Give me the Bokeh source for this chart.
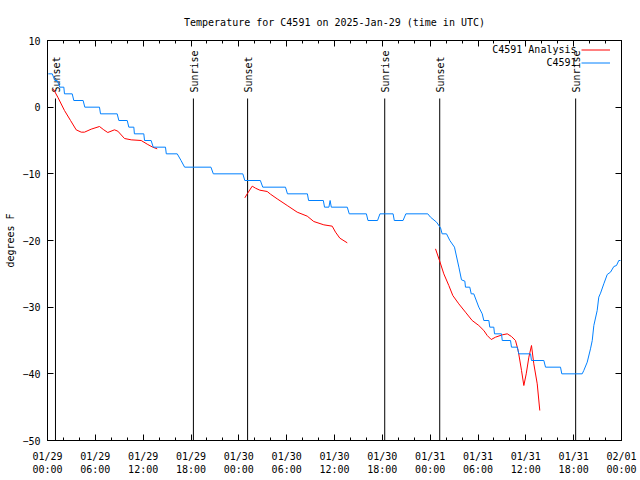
import math
from bokeh.plotting import figure
from bokeh.models import (FixedTicker, LinearAxis, Range1d, Legend, LegendItem, Label)
from bokeh.core.properties import value
from bokeh.embed import file_html
from bokeh.resources import INLINE

TITLE = "Temperature for C4591 on 2025-Jan-29 (time in UTC)"
Y_LABEL = "degrees F"
FONT = "DejaVu Sans Mono"

# x = hours since 2025-01-29 00:00 UTC
tick_hours = [0, 6, 12, 18, 24, 30, 36, 42, 48, 54, 60, 66, 72]
tick_labels = ["01/29\n00:00", "01/29\n06:00", "01/29\n12:00", "01/29\n18:00",
               "01/30\n00:00", "01/30\n06:00", "01/30\n12:00", "01/30\n18:00",
               "01/31\n00:00", "01/31\n06:00", "01/31\n12:00", "01/31\n18:00",
               "02/01\n00:00"]
minor_tick_hours = list(range(0, 73, 2))
y_ticks = [-50, -40, -30, -20, -10, 0, 10]

# C4591 observations
obs_hours = [0.1, 0.6, 0.92, 1.21, 1.55, 2.05, 2.13, 3.1, 3.3, 4.47, 4.68, 6.52,
             6.65, 8.74, 8.95, 10.0, 10.2, 10.83, 10.9, 12.08, 12.17, 13.0, 13.26, 14.8,
             14.9, 16.27, 16.75, 17.2, 20.5, 20.8, 24.5, 24.75, 26.7, 27.0, 29.85, 30.1,
             32.6, 32.75, 34.6, 34.75, 35.3, 35.45, 35.6, 37.6, 37.85, 40.0, 40.2, 41.4,
             41.7, 43.35, 43.5, 44.6, 44.95, 47.7, 48.04, 48.8, 49.3, 49.5, 50.05, 50.47,
             51.05, 51.6, 51.93, 52.35, 52.43, 52.97, 53.15, 53.47, 54.1, 54.53, 54.73, 55.36,
             55.48, 55.98, 56.07, 56.95, 57.04, 58.08, 58.2, 58.92, 59.12, 60.59, 60.71, 62.26,
             62.47, 64.35, 64.51, 67.07, 67.27, 67.7, 68.11, 68.33, 68.53, 68.95, 69.15, 69.37,
             69.78, 70.21, 70.62, 71.04, 71.37, 71.66, 71.87]
obs_temps = [5, 5, 4, 4, 3, 3, 2, 2, 1, 1, 0, 0,
             -1, -1, -2, -2, -3, -3, -4, -4, -5, -5, -6, -6,
             -7, -7, -8, -9, -9, -10, -10, -11, -11, -12, -12, -13,
             -13, -14, -14, -15, -15, -14, -15, -15, -16, -16, -17, -17,
             -16, -16, -17, -17, -16, -16, -16.5, -17.25, -18.1, -19, -19, -20,
             -21, -24, -25.9, -26.1, -27, -27, -28, -28, -30, -31, -32, -32,
             -33, -33, -34, -34, -35, -35, -36, -36, -37, -37, -38, -38,
             -39, -39, -40, -40, -39.5, -38.25, -36.25, -35, -32.75, -30.5, -28.5, -27.9,
             -26.5, -25.1, -24.75, -23.9, -23.75, -23, -23]

NAN = float("nan")
# C4591 Analysis (three runs, NaN separates them)
ana_hours = [0.72, 1.29, 2.13, 2.89, 3.6, 4.23, 4.64, 5.48, 6.52, 7.06, 7.56, 8.4,
             8.82, 9.66, 10.5, 11.75, 12.58, 13.2, 13.76, NAN,
             24.75, 25.05, 25.68, 26.09, 26.63, 27.56, 27.97, 28.81, 30.07, 31.32, 32.58,
             33.4, 34.66, 35.71, 36.13, 36.67, 37.6, NAN,
             48.67, 49.17, 49.71, 50.34, 50.84, 51.59, 52.43, 53.27, 54.1, 54.73, 55.16,
             55.66, 56.2, 57.04, 57.67, 58.2, 58.7, 59.04, 59.46, 59.75, 60.05, 60.38,
             60.71, 61.0, 61.43, 61.75]
ana_temps = [2.75, 1.5, -0.5, -2.0, -3.4, -3.75, -3.75, -3.3, -2.9, -3.4, -3.8, -3.4,
             -3.6, -4.7, -4.9, -5.0, -5.6, -6.0, -6.25, NAN,
             -13.6, -13.0, -11.85, -12.15, -12.45, -12.65, -13.05, -13.75, -14.75, -15.75, -16.35,
             -17.15, -17.65, -17.85, -18.75, -19.65, -20.35, NAN,
             -21.25, -23.0, -25.0, -26.75, -28.25, -29.5, -30.75, -32.0, -32.75, -33.5, -34.25,
             -34.85, -34.5, -34.15, -34.0, -34.4, -35.0, -36.5, -39.5, -41.75, -40.0, -37.5,
             -35.75, -38.5, -41.5, -45.5]

event_hours = [1.0, 18.3, 25.1, 42.3, 49.2, 66.25]
event_names = ["Sunset", "Sunrise", "Sunset", "Sunrise", "Sunset", "Sunrise"]

series_names = ["C4591 Analysis", "C4591"]
series_colors = ["#ff0000", "#0080ff"]

XMIN, XMAX = 0, 72
YMIN, YMAX = -50, 10

p = figure(width=640, height=480, x_range=Range1d(XMIN, XMAX), y_range=Range1d(YMIN, YMAX),
           output_backend="svg", toolbar_location=None, title=TITLE,
           min_border_left=47, min_border_right=19, min_border_top=40, min_border_bottom=40)
p.background_fill_color = "white"
p.border_fill_color = "white"
p.outline_line_color = "black"
p.outline_line_width = 1
p.xgrid.visible = False
p.ygrid.visible = False

p.title.text_font = FONT
p.title.text_font_size = "10px"
p.title.text_font_style = "normal"
p.title.text_color = "black"
p.title.align = "center"
p.title.standoff = 25

xt = FixedTicker(ticks=tick_hours, minor_ticks=minor_tick_hours)
yt = FixedTicker(ticks=y_ticks, minor_ticks=[])

def style_axis(ax, labels=True):
    ax.axis_line_color = "black"
    ax.major_tick_line_color = "black"
    ax.minor_tick_line_color = "black"
    ax.major_tick_in = 6
    ax.major_tick_out = 0
    ax.minor_tick_in = 3
    ax.minor_tick_out = 0
    ax.major_label_text_font = FONT
    ax.major_label_text_font_size = "10px" if labels else "1px"
    ax.major_label_text_color = "black"
    ax.axis_label_text_font = FONT
    ax.axis_label_text_font_size = "10px"
    ax.axis_label_text_font_style = "normal"
    ax.axis_label_text_color = "black"

xa = p.xaxis[0]
xa.ticker = xt
xa.major_label_overrides = {h: l for h, l in zip(tick_hours, tick_labels)}
style_axis(xa)
xa.major_label_standoff = 10

ya = p.yaxis[0]
ya.ticker = yt
style_axis(ya)
ya.major_label_standoff = 7
ya.axis_label = Y_LABEL
ya.axis_label_standoff = 3

top = LinearAxis(ticker=xt)
style_axis(top, labels=False)
top.major_label_overrides = {h: "" for h in tick_hours}
top.major_label_standoff = 0
p.add_layout(top, "above")

right = LinearAxis(ticker=yt)
style_axis(right, labels=False)
right.major_label_overrides = {t: "" for t in y_ticks}
right.major_label_standoff = 0
p.add_layout(right, "right")

# sunrise / sunset markers
frac_line, frac_text = 0.855, 0.87
line_top = YMIN + frac_line * (YMAX - YMIN)
text_y = YMIN + frac_text * (YMAX - YMIN)
p.segment(x0=event_hours, y0=[YMIN] * len(event_hours), x1=event_hours,
          y1=[line_top] * len(event_hours), line_color="black", line_width=1)
p.text(x=event_hours, y=[text_y] * len(event_hours), text=event_names, angle=math.pi / 2,
       text_align="left", text_baseline="middle", text_font=value(FONT),
       text_font_size="10px", text_color="black", x_offset=1)

r_ana = p.line(ana_hours, ana_temps, line_color=series_colors[0], line_width=1)
r_obs = p.line(obs_hours, obs_temps, line_color=series_colors[1], line_width=1)

# key: text to the left, sample line to the right (gnuplot style)
legend = Legend(items=[LegendItem(label="", renderers=[r_ana]),
                       LegendItem(label="", renderers=[r_obs])],
                location=(534, 371), glyph_width=29, glyph_height=13, spacing=0,
                padding=0, margin=0, label_width=0, label_standoff=0,
                label_text_font_size="1px",
                border_line_alpha=0, background_fill_alpha=0)
p.add_layout(legend)
for i, name in enumerate(series_names):
    p.add_layout(Label(x=529, y=391 - 13 * i, x_units="screen", y_units="screen", text=name,
                       text_align="right", text_baseline="middle", text_font=FONT,
                       text_font_size="10px", text_color="black"))

open("out.html", "w").write(file_html(p, INLINE))
